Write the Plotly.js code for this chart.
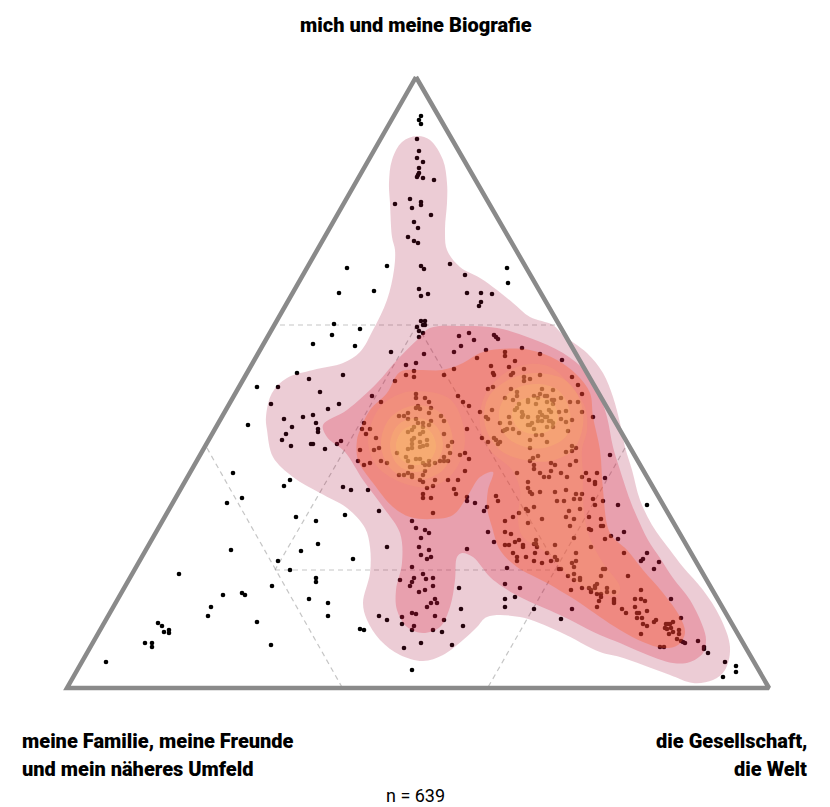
<!DOCTYPE html>
<html><head><meta charset="utf-8">
<script src="https://cdn.plot.ly/plotly-3.0.1.min.js"></script>
<style>html,body{margin:0;padding:0;background:#fff}</style></head>
<body><div id="chart" style="width:830px;height:807px"></div>
<script>
var answersApex=[[421,116],[419,120],[421,124],[417,139],[419,151],[417,158],[423,162],[419,168],[419,173],[417,177],[418,175],[423,178],[434,180],[395,204],[410,199],[421,202],[421,205],[412,208],[431,215],[414,222],[418,228],[408,237],[414,241],[418,243],[347,268],[387,266],[421,266],[424,269],[450,264],[507,268],[339,293],[374,291],[419,289],[421,296],[428,294],[465,275],[508,283],[467,293],[481,293],[492,294],[481,302],[479,306]];
var answersUpperMid=[[334,324],[360,329],[332,335],[313,344],[355,346],[421,321],[425,321],[423,325],[425,325],[417,327],[419,331],[423,333],[419,337],[391,352],[424,354],[406,365],[416,363],[414,371],[406,375],[414,377],[395,381],[297,373],[309,379],[343,375],[459,336],[469,333],[461,346],[474,340],[494,335],[496,337],[498,339],[454,352],[486,350],[522,348],[505,352],[505,356],[540,354],[477,358],[515,361],[562,360],[454,369],[491,366],[509,367],[524,369],[444,375]];
var answersLeftMid=[[257,387],[278,387],[320,392],[372,396],[381,402],[271,404],[339,404],[328,409],[313,415],[303,417],[284,419],[316,423],[248,425],[292,427],[318,429],[318,432],[286,434],[282,440],[291,446],[311,444],[313,444],[325,449],[337,444],[341,441],[364,423],[362,429],[370,429],[366,434],[376,438],[360,450],[374,450],[379,448],[358,461],[364,465],[370,463],[381,461],[387,463]];
var answersLeftBlob=[[416,394],[416,398],[425,398],[429,402],[458,396],[463,402],[469,406],[418,406],[416,408],[420,409],[431,408],[429,413],[408,413],[399,416],[404,416],[408,419],[416,419],[418,423],[423,423],[431,421],[429,425],[441,416],[444,421],[423,427],[414,427],[412,430],[408,432],[423,432],[420,434],[444,434],[467,429],[414,438],[412,440],[427,440],[420,442],[423,446],[427,445],[412,444],[420,447],[412,448],[408,449],[452,442],[448,446],[450,453],[397,453],[460,455],[465,453],[469,459],[406,457],[408,461],[416,459],[420,459],[429,461],[423,463],[425,465],[429,465],[435,463],[440,461],[444,457],[444,461],[448,461],[410,467],[412,467],[425,471],[465,471],[408,473],[412,475],[412,477],[399,475],[404,475],[423,475],[420,480],[423,482],[435,480],[448,480],[458,480],[433,486],[427,488],[454,489]];
var answersLowerMid=[[423,494],[423,498],[431,498],[456,494],[467,497],[467,501],[475,503],[433,513],[343,487],[351,490],[368,490],[379,511],[345,515],[412,521],[416,528],[425,530],[429,533],[421,538],[419,547],[429,550],[421,555],[431,557],[427,559],[387,547],[353,559],[412,567],[467,549],[423,574],[414,578],[426,579],[433,578],[400,580],[412,582],[410,586],[433,586],[425,590],[419,592],[459,588],[435,599],[437,603],[431,603],[427,607],[461,609],[412,613],[416,614],[435,616],[402,617],[379,616],[387,620],[444,620],[402,624],[414,626],[463,626],[412,630],[433,630],[442,632],[328,603],[328,616],[360,629],[364,630],[421,643],[452,645],[404,648],[412,670]];
var answersLowerLeft=[[233,473],[242,498],[227,503],[290,480],[284,486],[296,517],[316,521],[231,550],[301,551],[318,544],[278,561],[290,570],[179,574],[316,578],[316,582],[272,586],[223,595],[242,593],[245,595],[309,599],[211,607],[208,616],[257,622],[158,623],[162,626],[169,630],[169,633],[164,632],[145,643],[152,643],[152,647],[271,645],[106,662]];
var answersRightBlob=[[493,373],[494,375],[513,373],[511,375],[524,377],[524,381],[530,379],[540,375],[572,377],[578,385],[582,394],[493,387],[488,389],[511,389],[517,392],[517,396],[542,389],[540,394],[553,390],[505,398],[513,400],[528,400],[528,402],[534,396],[538,398],[545,396],[547,396],[561,398],[547,402],[552,400],[554,400],[536,404],[553,404],[570,402],[578,402],[519,404],[517,408],[515,410],[492,410],[480,412],[549,410],[551,412],[559,412],[566,411],[582,412],[593,417],[509,417],[522,412],[523,415],[522,417],[540,412],[542,415],[538,417],[545,417],[547,417],[528,417],[542,421],[538,421],[549,421],[551,421],[553,423],[532,423],[530,425],[528,425],[561,419],[566,422],[572,420],[486,417],[488,419],[500,423],[510,423],[553,427],[547,427],[534,429],[568,431],[507,429],[505,430],[503,431],[513,429],[519,433],[536,435],[542,435],[482,438],[488,442],[494,438],[496,440],[500,442],[498,444],[530,440],[547,442],[530,448],[572,446],[576,448],[566,452],[572,451],[538,456],[533,458],[530,461],[576,461],[551,463],[555,465],[570,465],[534,465],[534,469],[551,471],[517,473],[561,473],[540,473],[586,473],[597,473],[544,477],[549,477],[567,477],[582,477]];
var answersLowerRight=[[610,455],[589,480],[595,482],[595,484],[605,478],[528,482],[528,488],[530,492],[532,494],[540,492],[555,492],[566,490],[576,494],[582,494],[574,499],[580,499],[593,499],[603,501],[557,501],[564,501],[595,505],[618,505],[647,505],[496,496],[498,501],[487,507],[484,511],[526,509],[528,511],[534,507],[519,513],[513,517],[505,521],[580,509],[569,511],[566,517],[574,519],[589,517],[601,519],[542,519],[528,523],[570,526],[601,526],[603,526],[505,532],[488,532],[511,534],[589,529],[591,530],[624,532],[611,536],[605,539],[618,539],[574,538],[536,540],[519,540],[515,542],[505,545],[509,545],[494,542],[523,545],[523,547],[534,544],[536,544],[537,547],[555,545],[591,547],[513,553],[517,557],[517,561],[526,557],[535,553],[547,553],[576,553],[624,553],[647,553],[555,557],[557,560],[534,561],[542,563],[551,561],[576,561],[572,563],[643,559],[641,561],[659,562],[507,568],[559,569],[561,569],[574,567],[603,569],[605,569],[654,569],[574,574],[568,576],[580,578],[580,580],[574,580],[601,576],[628,576],[505,584],[520,588],[571,590],[582,588],[589,588],[591,590],[597,584],[595,586],[595,588],[607,588],[591,592],[614,592],[597,594],[601,594],[607,592],[601,597],[614,599],[614,601],[614,603],[599,601],[641,590],[635,599],[641,599],[645,601],[635,607],[597,607],[505,599],[515,597],[505,607],[534,609],[572,609],[622,609],[626,613],[637,613],[639,613],[637,618],[642,618],[647,611],[656,620],[561,619],[671,599],[654,622],[681,618],[643,624],[647,626],[673,622],[668,624],[666,624],[670,624],[665,628],[667,629],[671,628],[679,630],[673,632],[669,634],[679,634],[641,634],[677,639],[681,641],[683,642],[685,643],[698,641],[660,647],[664,647],[704,647],[704,649],[708,653],[725,662],[736,666],[736,672],[723,677]];

var density1=[[417,136],[430,140],[443,160],[447,183],[447,203],[445,230],[447,250],[460,267],[480,278],[497,290],[513,303],[530,317],[553,325],[563,335],[587,353],[603,373],[613,397],[620,423],[625,447],[632,470],[640,500],[652,525],[670,550],[683,567],[703,590],[720,617],[730,647],[725,670],[713,680],[693,683],[670,675],[643,665],[620,657],[600,652],[560,632],[520,617],[487,617],[477,627],[463,640],[443,655],[423,661],[400,655],[380,640],[367,620],[363,603],[370,573],[370,547],[365,528],[347,508],[320,493],[293,477],[273,457],[267,430],[266,417],[272,393],[287,378],[313,370],[343,363],[360,352],[373,330],[387,300],[394,270],[395,250],[392,237],[390,203],[389,183],[392,160],[402,142],[417,136]];
var density2=[[430,328],[463,326],[497,328],[530,338],[563,353],[587,373],[600,397],[607,417],[613,447],[620,470],[630,500],[637,517],[648,540],[660,558],[673,578],[690,600],[703,627],[706,640],[703,653],[690,662],[673,663],[643,653],[620,643],[600,635],[560,615],[520,597],[503,587],[490,577],[473,557],[462,553],[457,557],[455,580],[450,607],[440,627],[423,633],[407,627],[397,610],[396,590],[402,563],[400,533],[383,507],[363,480],[345,452],[327,437],[323,425],[347,410],[377,383],[397,360],[417,340],[430,328]];
var density3=[[400,372],[420,370],[442,370],[463,363],[480,353],[500,349],[530,350],[557,360],[577,375],[590,393],[593,417],[600,450],[603,490],[610,533],[627,550],[643,570],[663,593],[680,617],[685,633],[678,645],[663,648],[643,642],[620,630],[600,617],[580,603],[547,583],[517,567],[500,550],[492,527],[487,507],[488,490],[493,472],[480,477],[467,497],[453,515],[433,519],[410,517],[393,507],[373,483],[358,460],[357,440],[360,430],[370,410],[387,393],[400,372]];
var density4a=[[530,364],[552,368],[570,385],[585,407],[587,430],[582,450],[583,475],[583,500],[588,533],[603,563],[620,587],[617,595],[595,592],[573,580],[547,553],[523,537],[518,520],[520,490],[512,470],[490,450],[480,425],[485,395],[505,373],[530,364]];
var density4b=[[417,391],[451,400],[465,440],[453,473],[430,487],[400,482],[376,465],[368,440],[378,410],[395,396],[417,391]];
var density5a=[[535,373],[565,380],[580,400],[583,425],[573,450],[550,461],[525,460],[500,450],[485,425],[488,398],[508,380],[535,373]];
var density5b=[[417,405],[443,415],[453,443],[443,470],[417,480],[392,470],[381,445],[390,418],[417,405]];
var density6a=[[535,384],[558,390],[570,412],[567,435],[548,447],[525,447],[505,435],[499,412],[510,392],[535,384]];
var density6b=[[416,418],[435,425],[443,445],[434,465],[416,472],[398,465],[390,445],[398,425],[416,418]];
var density7a=[[535,397],[552,402],[558,418],[550,430],[533,434],[518,428],[512,414],[518,402],[535,397]];
var density7b=[[416,425],[430,431],[436,446],[430,460],[416,465],[402,460],[396,446],[402,431],[416,425]];

var frame=[[416,77],[769,688],[67,688],[416,77]];
var gridSegments=[[[280,325],[558,325]],[[275,570],[559,570]],[[207,448],[343,689]],[[625,448],[487,689]],[[417,325],[275,570]],[[417,325],[559,570]]];
var labels=[
 {t:'mich und meine Biografie',x:416,y:25,a:'center',w:900,s:20},
 {t:'meine Familie, meine Freunde',x:20,y:741,a:'left',w:900,s:20},
 {t:'und mein näheres Umfeld',x:20,y:769,a:'left',w:900,s:20},
 {t:'die Gesellschaft,',x:809,y:741,a:'right',w:900,s:20},
 {t:'die Welt',x:809,y:769,a:'right',w:900,s:20},
 {t:'n = 639',x:415,y:795,a:'center',w:400,s:18}
];

function poly(p,color){return {type:'scatter',mode:'lines',x:p.map(function(d){return d[0]}),y:p.map(function(d){return d[1]}),fill:'toself',fillcolor:color,line:{width:0,shape:'spline',smoothing:1},hoverinfo:'skip',showlegend:false};}
var traces=[];
gridSegments.forEach(function(s){traces.push({type:'scatter',mode:'lines',x:[s[0][0],s[1][0]],y:[s[0][1],s[1][1]],line:{color:'rgba(150,150,150,0.55)',width:1.2,dash:'5px,4px'},hoverinfo:'skip',showlegend:false});});
var all=[].concat(answersApex,answersUpperMid,answersLeftMid,answersLeftBlob,answersLowerMid,answersLowerLeft,answersRightBlob,answersLowerRight);
traces.push({type:'scatter',mode:'markers',x:all.map(function(d){return d[0]}),y:all.map(function(d){return d[1]}),marker:{color:'#000',size:4.6,line:{width:0}},showlegend:false,name:'Antworten'});
traces.push(poly(density1,'rgba(164,12,55,0.21)'));
traces.push(poly(density2,'rgba(220,28,60,0.25)'));
traces.push(poly(density3,'rgba(255,87,25,0.30)'));
traces.push(poly(density4a,'rgba(255,175,105,0.16)'));
traces.push(poly(density4b,'rgba(255,175,105,0.16)'));
traces.push(poly(density5a,'rgba(255,195,100,0.18)'));
traces.push(poly(density5b,'rgba(255,195,100,0.18)'));
traces.push(poly(density6a,'rgba(255,210,105,0.18)'));
traces.push(poly(density6b,'rgba(255,210,105,0.18)'));
traces.push(poly(density7a,'rgba(255,215,105,0.18)'));
traces.push(poly(density7b,'rgba(255,215,105,0.18)'));
traces.push({type:'scatter',mode:'lines',x:frame.map(function(d){return d[0]}),y:frame.map(function(d){return d[1]}),line:{color:'#8a8a8a',width:4.5},hoverinfo:'skip',showlegend:false});

var layout={width:830,height:807,margin:{l:0,r:0,t:0,b:0},paper_bgcolor:'#fff',plot_bgcolor:'#fff',showlegend:false,
 xaxis:{range:[0,830],visible:false,fixedrange:true},
 yaxis:{range:[807,0],visible:false,fixedrange:true},
 annotations:labels.map(function(l){return {xref:'x',yref:'y',x:l.x,y:l.y,xanchor:l.a,yanchor:'middle',showarrow:false,text:l.t,font:{family:'Roboto,"Liberation Sans",sans-serif',size:l.s,weight:l.w,color:'#000'}};})
};
Plotly.newPlot('chart',traces,layout,{displayModeBar:false,staticPlot:true});
</script></body></html>
